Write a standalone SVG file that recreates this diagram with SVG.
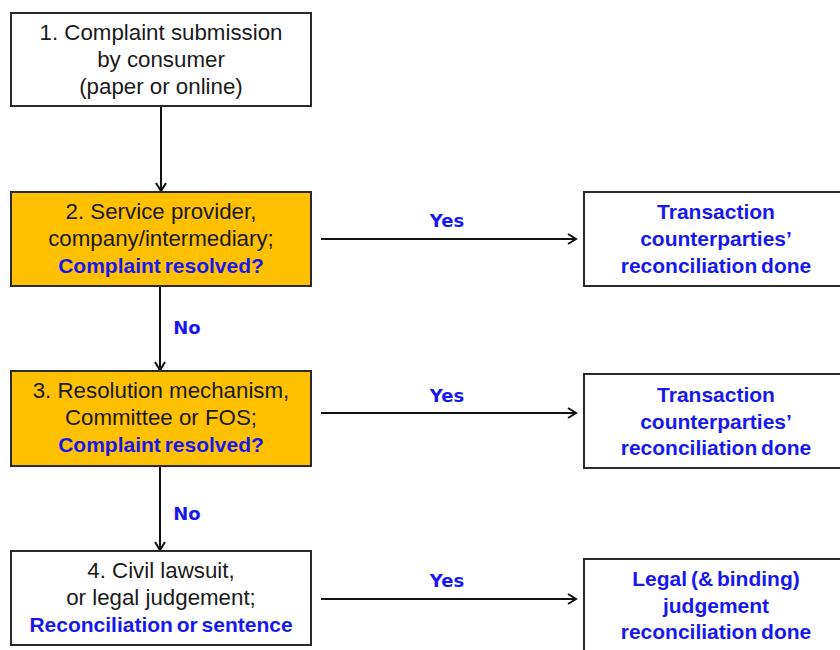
<svg xmlns="http://www.w3.org/2000/svg" width="840" height="650" viewBox="0 0 840 650">
<defs>
<marker id="arr" markerUnits="userSpaceOnUse" markerWidth="14" markerHeight="14" refX="11" refY="7" orient="auto">
<path d="M3,2 L11,7 L3,12" fill="none" stroke="#111" stroke-width="2"/>
</marker>
<style>
.box{stroke:#2a2a2a;stroke-width:2;fill:#fff}
.or{fill:#FFC000}
.t{font-family:"Liberation Sans",Arial,sans-serif;font-size:22.3px;fill:#1a1a1a;text-anchor:middle}
.b{font-family:"Liberation Sans",Arial,sans-serif;font-size:21px;font-weight:bold;fill:#1818EE;text-anchor:middle;word-spacing:-2px}
.l{font-family:"DejaVu Sans",Verdana,sans-serif;font-size:18px;font-weight:bold;fill:#1818EE;text-anchor:middle}
.c{stroke:#111;stroke-width:2;fill:none;marker-end:url(#arr)}
</style>
</defs>
<rect width="840" height="650" fill="#fff"/>
<g id="connectors">
<line class="c" x1="161" y1="106" x2="161" y2="191"/>
<line class="c" x1="160" y1="286" x2="160" y2="370"/>
<line class="c" x1="160" y1="466" x2="160" y2="550"/>
<line class="c" x1="321" y1="239" x2="576" y2="239"/>
<line class="c" x1="321" y1="413" x2="576" y2="413"/>
<line class="c" x1="321" y1="599" x2="576" y2="599"/>
<text class="l" x="447" y="227">Yes</text>
<text class="l" x="447" y="402">Yes</text>
<text class="l" x="447" y="587">Yes</text>
<text class="l" x="187" y="334">No</text>
<text class="l" x="187" y="520">No</text>
</g>
<g id="n1">
<rect class="box" x="11" y="13" width="300" height="93"/>
<text class="t" x="161" y="40">1. Complaint submission</text>
<text class="t" x="161" y="67">by consumer</text>
<text class="t" x="161" y="94">(paper or online)</text>
</g>
<g id="n2">
<rect class="box or" x="11" y="192" width="300" height="94"/>
<text class="t" x="161" y="219">2. Service provider,</text>
<text class="t" x="161" y="246">company/intermediary;</text>
<text class="b" x="161" y="273">Complaint resolved?</text>
</g>
<g id="n3">
<rect class="box or" x="11" y="371" width="300" height="95"/>
<text class="t" x="161" y="398">3. Resolution mechanism,</text>
<text class="t" x="161" y="425">Committee or FOS;</text>
<text class="b" x="161" y="452">Complaint resolved?</text>
</g>
<g id="n4">
<rect class="box" x="11" y="551" width="300" height="94"/>
<text class="t" x="161" y="578">4. Civil lawsuit,</text>
<text class="t" x="161" y="605">or legal judgement;</text>
<text class="b" x="161" y="632">Reconciliation or sentence</text>
</g>
<g id="r1">
<rect class="box" x="584" y="192" width="270" height="94"/>
<text class="b" x="716" y="219">Transaction</text>
<text class="b" x="716" y="246">counterparties’</text>
<text class="b" x="716" y="273">reconciliation done</text>
</g>
<g id="r2">
<rect class="box" x="584" y="374" width="270" height="94"/>
<text class="b" x="716" y="402">Transaction</text>
<text class="b" x="716" y="429">counterparties’</text>
<text class="b" x="716" y="455">reconciliation done</text>
</g>
<g id="r3">
<rect class="box" x="584" y="559" width="270" height="100"/>
<text class="b" x="716" y="586">Legal (&amp; binding)</text>
<text class="b" x="716" y="613">judgement</text>
<text class="b" x="716" y="639">reconciliation done</text>
</g>
</svg>
